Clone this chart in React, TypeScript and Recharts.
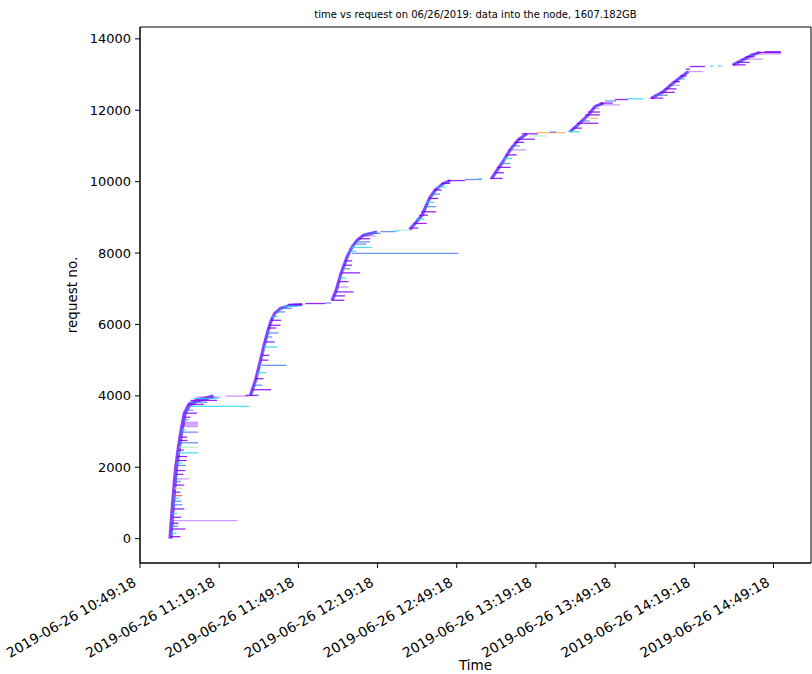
import React from "react";
import {
  ComposedChart,
  Line,
  XAxis,
  YAxis,
  ReferenceLine,
  ReferenceArea,
} from "recharts";

// x = minutes after 2019-06-26 10:49:18, y = request number
const TICK_MINUTES = [0, 30, 60, 90, 120, 150, 180, 210, 240];
const TICK_LABELS = [
  "2019-06-26 10:49:18",
  "2019-06-26 11:19:18",
  "2019-06-26 11:49:18",
  "2019-06-26 12:19:18",
  "2019-06-26 12:49:18",
  "2019-06-26 13:19:18",
  "2019-06-26 13:49:18",
  "2019-06-26 14:19:18",
  "2019-06-26 14:49:18",
];
const Y_TICKS = [0, 2000, 4000, 6000, 8000, 10000, 12000, 14000];

// leading edge of each burst of requests: [minute, request no.]
const burstEdges: [number, number][][] = [
  [[11.5, 0], [12.2, 700], [13.2, 1630], [13.7, 2000], [14.7, 2560], [15.7, 3030], [16.9, 3500], [18.5, 3730], [21.6, 3870], [27.8, 3985]],
  [[41.8, 4010], [43.7, 4430], [45.3, 4900], [46.8, 5370], [48.5, 5840], [49.7, 6120], [51.0, 6310], [53.2, 6450], [56.9, 6540], [61.4, 6560]],
  [[72.7, 6670], [74.3, 6960], [76.1, 7430], [78.4, 7890], [80.3, 8170], [82.2, 8360], [84.7, 8500], [89.7, 8590]],
  [[102.1, 8660], [104.2, 8830], [106.8, 9060], [109.6, 9530], [111.8, 9765], [114.9, 9950], [117.4, 10030]],
  [[133.2, 10090], [137.0, 10510], [140.2, 10890], [143.3, 11170], [146.5, 11340]],
  [[162.9, 11400], [166.6, 11640], [169.8, 11870], [172.3, 12100], [175.5, 12200]],
  [[193.8, 12340], [198.2, 12520], [201.9, 12760], [205.1, 12940], [207.6, 13080]],
  [[224.6, 13270], [228.3, 13410], [232.1, 13550], [234.7, 13620]],
];

// single requests: [request no., start minute, end minute, colour key]
type Req = [number, number, number, string];

const burstOne: Req[] = [
  [56, 11.5, 15.3, "p"], [270, 11.9, 17.2, "p"], [350, 12.0, 14.5, "b"], [505, 12.7, 36.8, "l"],
  [600, 12.3, 15.6, "p"], [700, 12.4, 14.0, "c"], [833, 12.5, 16.8, "p"], [950, 12.6, 16.0, "b"],
  [1050, 12.7, 15.7, "b"], [1206, 13.1, 16.0, "r"], [1300, 13.1, 15.2, "p"], [1410, 13.1, 16.0, "y"],
  [1500, 13.2, 16.8, "p"], [1675, 13.4, 18.5, "l"], [1800, 13.5, 16.4, "p"], [1908, 13.6, 17.2, "p"],
  [2050, 13.8, 17.4, "b"], [2189, 14.0, 17.6, "p"], [2300, 14.2, 17.8, "p"], [2404, 14.4, 22.0, "c"],
  [2562, 14.7, 22.0, "g"], [2685, 14.9, 22.0, "b"], [2750, 15.0, 18.0, "p"], [2843, 15.3, 17.9, "p"],
  [2983, 15.5, 22.0, "b"], [3140, 15.9, 22.0, "l"], [3180, 15.9, 22.0, "l"], [3220, 15.9, 22.0, "l"],
  [3260, 15.9, 22.0, "l"], [3400, 16.5, 19.1, "p"], [3516, 16.8, 21.6, "p"], [3600, 17.2, 20.2, "b"],
  [3704, 19.1, 41.5, "c"], [3760, 18.0, 24.1, "p"], [3820, 18.3, 25.5, "b"], [3872, 19.1, 29.2, "p"],
  [3930, 20.2, 29.7, "c"], [3965, 21.4, 30.5, "l"], [3993, 32.3, 41.2, "l"],
  [150, 11.7, 13.9, "c"], [430, 12.1, 14.6, "p"], [1130, 12.9, 14.9, "c"], [1600, 13.3, 15.4, "b"],
  [2120, 13.9, 15.9, "c"], [2480, 14.5, 16.6, "p"], [3050, 15.7, 17.4, "c"], [3330, 16.2, 18.4, "b"],
];

const burstTwo: Req[] = [
  [4013, 39.9, 44.9, "p"], [4172, 42.4, 49.7, "p"], [4300, 42.9, 46.3, "b"], [4481, 43.7, 46.8, "p"],
  [4650, 44.5, 47.9, "c"], [4855, 46.2, 55.4, "b"], [5000, 45.8, 48.6, "p"], [5135, 46.3, 49.0, "p"],
  [5368, 46.9, 51.9, "c"], [5508, 47.3, 51.0, "p"], [5650, 47.9, 50.1, "b"], [5761, 48.2, 52.5, "b"],
  [5900, 48.6, 51.6, "p"], [5977, 49.0, 53.2, "p"], [6117, 49.6, 53.5, "p"], [6220, 50.1, 52.4, "c"],
  [6350, 51.3, 55.0, "b"], [6450, 52.8, 57.7, "b"], [6510, 54.3, 60.1, "c"], [6560, 56.2, 61.4, "p"],
  [6586, 62.6, 70.2, "p"], [6600, 70.2, 72.4, "b"],
];

const burstThree: Req[] = [
  [6678, 72.7, 77.4, "p"], [6800, 73.4, 77.7, "p"], [6911, 74.0, 80.9, "p"], [7050, 74.7, 79.0, "l"],
  [7200, 75.3, 79.0, "p"], [7300, 75.7, 78.1, "c"], [7445, 76.2, 83.4, "p"], [7560, 76.6, 79.6, "b"],
  [7660, 77.2, 80.3, "p"], [7780, 77.7, 80.4, "p"], [7990, 80.3, 120.6, "b"], [8050, 78.9, 81.9, "c"],
  [8157, 80.0, 87.8, "c"], [8250, 80.8, 85.7, "b"], [8314, 81.5, 87.2, "b"], [8400, 82.7, 87.2, "p"],
  [8480, 83.8, 89.1, "l"], [8550, 85.3, 91.1, "b"], [8600, 91.1, 96.7, "b"], [8620, 96.0, 98.3, "c"],
  [8640, 97.8, 102.0, "g"],
];

const burstFour: Req[] = [
  [8700, 102.3, 105.4, "p"], [8830, 103.6, 108.6, "p"], [8950, 104.6, 107.6, "c"], [9060, 105.7, 109.1, "p"],
  [9156, 106.5, 112.2, "p"], [9300, 107.6, 112.2, "b"], [9420, 108.6, 111.4, "c"], [9530, 109.5, 113.0, "p"],
  [9650, 110.5, 113.7, "b"], [9765, 111.4, 114.3, "p"], [9850, 112.5, 116.0, "c"], [9950, 114.1, 117.5, "p"],
  [10030, 116.7, 123.1, "p"], [10060, 123.1, 129.5, "b"], [10080, 128.1, 129.6, "c"],
];

const burstFive: Req[] = [
  [10090, 132.6, 137.4, "p"], [10250, 134.1, 137.9, "p"], [10400, 135.2, 140.4, "p"], [10510, 136.4, 140.2, "b"],
  [10650, 137.5, 140.9, "c"], [10750, 138.5, 142.7, "p"], [10890, 139.4, 146.2, "l"], [11000, 140.5, 143.9, "b"],
  [11100, 141.7, 145.5, "p"], [11190, 143.0, 149.6, "p"], [11280, 147.7, 154.0, "g"], [11340, 144.7, 150.8, "p"],
  [11373, 150.3, 161.0, "o"], [11390, 155.3, 157.6, "b"],
];

const burstSix: Req[] = [
  [11400, 162.1, 166.6, "c"], [11500, 164.0, 167.4, "p"], [11636, 165.5, 173.6, "p"], [11700, 166.6, 170.4, "b"],
  [11777, 170.4, 173.6, "o"], [11870, 168.7, 174.2, "p"], [11950, 169.7, 174.2, "p"], [12050, 171.0, 174.2, "l"],
  [12150, 172.7, 181.8, "l"], [12200, 174.2, 179.1, "p"], [12260, 176.1, 180.3, "b"], [12300, 179.9, 184.8, "p"],
  [12320, 184.3, 190.6, "c"],
];

const burstSeven: Req[] = [
  [12340, 193.1, 198.2, "p"], [12420, 195.0, 199.9, "b"], [12500, 196.9, 202.6, "p"], [12600, 198.8, 203.2, "p"],
  [12700, 200.3, 204.5, "l"], [12800, 201.9, 204.5, "p"], [12880, 203.3, 206.4, "b"], [12960, 204.5, 207.1, "p"],
  [13084, 207.6, 213.3, "l"], [13150, 206.7, 208.3, "p"], [13225, 208.3, 214.0, "p"], [13240, 216.0, 217.1, "c"],
  [13245, 218.9, 220.4, "c"],
];

const burstEight: Req[] = [
  [13272, 224.4, 229.4, "p"], [13340, 226.1, 231.0, "p"], [13432, 227.9, 236.0, "l"], [13500, 229.4, 232.8, "p"],
  [13580, 231.0, 242.9, "l"], [13618, 234.1, 242.9, "p"], [13640, 236.6, 242.7, "p"],
];

const PALETTE: Record<string, { color: string; opacity: number }> = {
  p: { color: "#7f00ff", opacity: 0.85 },
  l: { color: "#8000ff", opacity: 0.4 },
  b: { color: "#3f6ff5", opacity: 0.75 },
  c: { color: "#22d4ea", opacity: 0.8 },
  g: { color: "#8ef0a8", opacity: 0.7 },
  y: { color: "#c6e26a", opacity: 0.8 },
  o: { color: "#ffa858", opacity: 0.85 },
  r: { color: "#ff4a2a", opacity: 0.8 },
};

const FONT = "DejaVu Sans, sans-serif";
const X_DOMAIN: [number, number] = [0, 254.2];
const Y_DOMAIN: [number, number] = [-682, 14332];

const allRequests = [
  ...burstOne, ...burstTwo, ...burstThree, ...burstFour,
  ...burstFive, ...burstSix, ...burstSeven, ...burstEight,
];

const TimeTick = (props: any) => {
  const { x, y, payload } = props;
  const idx = TICK_MINUTES.indexOf(payload.value);
  const ax = x - 3;
  const ay = y + 15;
  return (
    <text
      x={ax}
      y={ay}
      textAnchor="end"
      fontSize={13.8}
      fontFamily={FONT}
      fill="#000"
      transform={`rotate(-30 ${ax} ${ay})`}
    >
      {TICK_LABELS[idx]}
    </text>
  );
};

export default function App() {
  return (
    <div style={{ position: "absolute", left: 0, top: 0, width: 812, height: 674, background: "#fff" }}>
      <ComposedChart
        width={812}
        height={674}
        margin={{ top: 27, right: 1, bottom: 0, left: 0 }}
      >
        <text x={475.5} y={18} textAnchor="middle" fontSize={10} fontFamily={FONT} fill="#000">
          time vs request on 06/26/2019: data into the node, 1607.182GB
        </text>
        <XAxis
          type="number"
          dataKey="t"
          domain={X_DOMAIN}
          ticks={TICK_MINUTES}
          allowDataOverflow
          height={111}
          tickSize={5}
          tick={<TimeTick />}
          stroke="#000"
          interval={0}
          label={{ value: "Time", position: "insideBottom", offset: 4, fontSize: 13.5, fontFamily: FONT, fill: "#000" }}
        />
        <YAxis
          type="number"
          domain={Y_DOMAIN}
          ticks={Y_TICKS}
          allowDataOverflow
          width={140}
          tickSize={5}
          tickMargin={4}
          stroke="#000"
          interval={0}
          tick={{ fontSize: 13, fontFamily: FONT, fill: "#000" }}
          label={{ value: "request no.", angle: -90, position: "insideLeft", offset: 72, fontSize: 13.5, fontFamily: FONT, fill: "#000", style: { textAnchor: "middle" } }}
        />
        <ReferenceArea
          x1={X_DOMAIN[0]}
          x2={X_DOMAIN[1]}
          y1={Y_DOMAIN[0]}
          y2={Y_DOMAIN[1]}
          fill="none"
          stroke="#000"
          strokeWidth={1}
          ifOverflow="visible"
        />
        {burstEdges.map((edge, i) => (
          <Line
            key={`edge-${i}`}
            data={edge.map(([t, r]) => ({ t, r }))}
            dataKey="r"
            stroke="#7a1cff"
            strokeOpacity={0.85}
            strokeWidth={i === 0 ? 4 : 3}
            dot={false}
            activeDot={false}
            isAnimationActive={false}
          />
        ))}
        {burstEdges.map((edge, i) => (
          <Line
            key={`edge-hi-${i}`}
            data={edge.map(([t, r]) => ({ t: t + 0.5, r }))}
            dataKey="r"
            stroke="#3d86f5"
            strokeOpacity={0.7}
            strokeWidth={1.3}
            dot={false}
            activeDot={false}
            isAnimationActive={false}
          />
        ))}
        {allRequests.map(([r, t0, t1, k], i) => (
          <ReferenceLine
            key={`req-${i}`}
            segment={[{ x: t0, y: r }, { x: t1, y: r }]}
            stroke={PALETTE[k].color}
            strokeOpacity={PALETTE[k].opacity}
            strokeWidth={1.3}
          />
        ))}
      </ComposedChart>
    </div>
  );
}
